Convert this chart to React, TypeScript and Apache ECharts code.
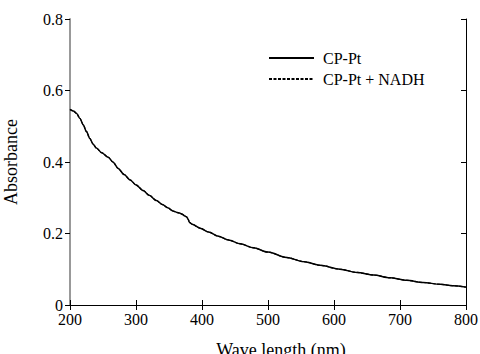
import React, { useEffect, useRef } from "react";
import * as echarts from "echarts";

const wavelengths = [200, 205, 210, 215, 220, 225, 230, 235, 240, 248, 258, 265, 273, 282, 291, 300, 311, 320, 331, 340, 348, 356, 362, 366, 370, 374, 377, 379, 381, 385, 397, 410, 425, 440, 458, 478, 500, 528, 555, 579, 609, 635, 660, 685, 710, 735, 761, 780, 800];
const cpPt = [0.547, 0.543, 0.536, 0.522, 0.504, 0.485, 0.466, 0.45, 0.439, 0.426, 0.413, 0.4, 0.382, 0.365, 0.35, 0.336, 0.32, 0.307, 0.292, 0.281, 0.272, 0.263, 0.259, 0.257, 0.254, 0.249, 0.246, 0.24, 0.231, 0.226, 0.215, 0.204, 0.192, 0.182, 0.171, 0.16, 0.148, 0.133, 0.121, 0.111, 0.1, 0.091, 0.084, 0.076, 0.069, 0.063, 0.058, 0.054, 0.05];
const cpPtNadh = [0.547, 0.543, 0.536, 0.522, 0.504, 0.485, 0.466, 0.45, 0.439, 0.426, 0.413, 0.4, 0.382, 0.365, 0.35, 0.336, 0.32, 0.307, 0.292, 0.281, 0.272, 0.263, 0.259, 0.257, 0.254, 0.249, 0.246, 0.24, 0.231, 0.226, 0.215, 0.204, 0.192, 0.182, 0.171, 0.16, 0.148, 0.133, 0.121, 0.111, 0.1, 0.091, 0.084, 0.076, 0.069, 0.063, 0.058, 0.054, 0.05];
const seriesNames = ["CP-Pt", "CP-Pt + NADH"];

const FONT = "'Liberation Serif', 'Times New Roman', serif";

export default function App() {
  const ref = useRef<HTMLDivElement>(null);
  useEffect(() => {
    if (!ref.current) return;
    const chart = echarts.init(ref.current, null, { renderer: "svg" });
    chart.setOption({
      animation: false,
      backgroundColor: "#fff",
      grid: { left: 70, top: 19, right: 14, bottom: 49, containLabel: false, outerBoundsMode: "none" },
      legend: {
        data: seriesNames,
        orient: "vertical",
        left: 263,
        top: 45,
        itemWidth: 45,
        itemHeight: 10,
        itemGap: 5,
        itemStyle: { opacity: 0 },
        textStyle: { color: "#000", fontFamily: FONT, fontSize: 16, padding: [0, 0, 0, 4] },
      },
      xAxis: [
        {
          type: "value",
          min: 200,
          max: 800,
          interval: 100,
          position: "bottom",
          name: "Wave length (nm)",
          nameLocation: "middle",
          nameGap: 36,
          nameTextStyle: { color: "#000", fontFamily: FONT, fontSize: 18, padding: [0, 0, 0, 26] },
          axisLine: { lineStyle: { color: "#000", width: 1 } },
          axisTick: { inside: true, length: 5, lineStyle: { color: "#000" } },
          axisLabel: { color: "#000", fontFamily: FONT, fontSize: 16, margin: 6 },
          splitLine: { show: false },
        },
        {
          type: "value",
          min: 200,
          max: 800,
          interval: 100,
          position: "top",
          axisLine: { lineStyle: { color: "#000", width: 1 } },
          axisTick: { inside: true, length: 5, lineStyle: { color: "#000" } },
          axisLabel: { show: false },
          splitLine: { show: false },
        },
      ],
      yAxis: [
        {
          type: "value",
          min: 0,
          max: 0.8,
          interval: 0.2,
          position: "left",
          name: "Absorbance",
          nameLocation: "middle",
          nameGap: 50,
          nameTextStyle: { color: "#000", fontFamily: FONT, fontSize: 18 },
          axisLine: { lineStyle: { color: "#999", width: 2 } },
          axisTick: { inside: false, length: 5, lineStyle: { color: "#000" } },
          axisLabel: {
            color: "#000",
            fontFamily: FONT,
            fontSize: 16,
            margin: 7,
            formatter: (v: number) => (v === 0 ? "0" : v.toFixed(1)),
          },
          splitLine: { show: false },
        },
        {
          type: "value",
          min: 0,
          max: 0.8,
          interval: 0.2,
          position: "right",
          axisLine: { lineStyle: { color: "#000", width: 1 } },
          axisTick: { inside: true, length: 5, lineStyle: { color: "#000" } },
          axisLabel: { show: false },
          splitLine: { show: false },
        },
      ],
      series: [
        {
          name: seriesNames[1],
          type: "line",
          data: wavelengths.map((w, i) => [w, cpPtNadh[i]]),
          symbol: "none",
          smooth: 0.3,
          smoothMonotone: "x",
          lineStyle: { color: "#000", width: 1.2, type: [3, 1.5] },
          itemStyle: { color: "#000" },
        },
        {
          name: seriesNames[0],
          type: "line",
          data: wavelengths.map((w, i) => [w, cpPt[i]]),
          symbol: "none",
          smooth: 0.3,
          smoothMonotone: "x",
          lineStyle: { color: "#000", width: 1.5 },
          itemStyle: { color: "#000" },
        },
      ],
    });
    return () => chart.dispose();
  }, []);
  return <div ref={ref} style={{ width: 480, height: 354, position: "absolute", left: 0, top: 0 }} />;
}
